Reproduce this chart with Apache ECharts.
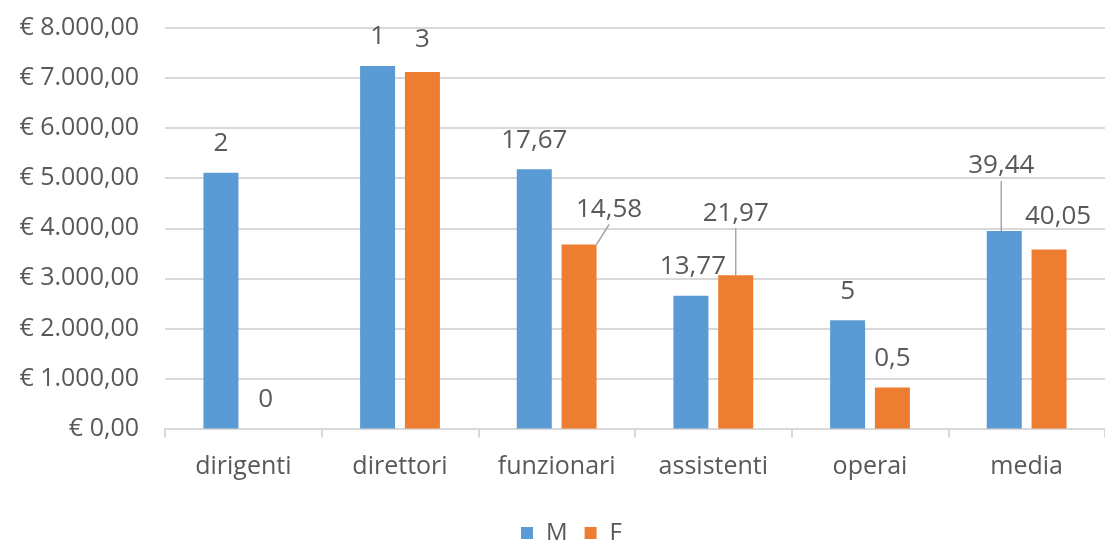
<!DOCTYPE html>
<html lang="it">
<head>
    <meta charset="UTF-8">
    <title>M / F</title>
    <style>
        html, body { margin: 0; padding: 0; background: #fff; }
        #main { width: 1105px; height: 541px; }
    </style>
</head>
<body>
<script src="https://cdn.jsdelivr.net/npm/echarts@6/dist/echarts.min.js"></script>

<div id="main"></div>

<script type="text/javascript">
    // dati
    var categories = ['dirigenti', 'direttori', 'funzionari', 'assistenti', 'operai', 'media'];
    var valoriM = [5110, 7240, 5180, 2650, 2160, 3945];
    var valoriF = [0, 7120, 3675, 3060, 820, 3575];
    var etichetteM = ['2', '1', '17,67', '13,77', '5', '39,44'];
    var etichetteF = ['0', '3', '14,58', '21,97', '0,5', '40,05'];

    // spostamento delle etichette (come in Excel) e linee guida
    var spostaM = [[0, 0], [0, 0], [0, 0], [2, 0], [0, 0], [-3, -36]];
    var spostaF = [[0, 0], [0, -3], [30, -6], [0, -33], [0, 0], [9, -4]];
    var lineaM = [false, false, false, false, false, true];
    var lineaF = [false, false, true, true, false, false];

    var grigio = '#595959';
    var font = "'Open Sans', sans-serif";

    function euro(v) {
        var parti = v.toFixed(2).split('.');
        var intero = parti[0].replace(/\B(?=(\d{3})+(?!\d))/g, '.');
        return '€ ' + intero + ',' + parti[1];
    }

    function creaDati(valori, etichette, linee) {
        var out = [];
        for (var i = 0; i < valori.length; i++) {
            out.push({
                value: valori[i],
                etichetta: etichette[i],
                labelLine: { show: linee[i] }
            });
        }
        return out;
    }

    var myChart = echarts.init(document.getElementById('main'));

    var etichetta = {
        show: true,
        position: 'top',
        distance: 14,
        fontFamily: font,
        fontSize: 26,
        lineHeight: 30,
        color: grigio,
        formatter: function (p) { return p.data.etichetta; }
    };

    var linea = {
        show: false,
        lineStyle: { color: '#a6a6a6', width: 1.5 }
    };

    myChart.setOption({
        animation: false,
        textStyle: { fontFamily: font },
        grid: { left: 165, right: -5, top: 28, bottom: 112.5 },
        legend: {
            data: ['M', 'F'],
            left: 516,
            top: 516,
            icon: 'rect',
            itemWidth: 12,
            itemHeight: 12,
            itemGap: 17,
            textStyle: { fontFamily: font, fontSize: 24, color: grigio, padding: [0, 0, 0, 8] }
        },
        xAxis: {
            type: 'category',
            data: categories,
            axisLine: { lineStyle: { color: '#d9d9d9', width: 2 } },
            axisTick: { show: true, length: 9, lineStyle: { color: '#d9d9d9', width: 2 } },
            axisLabel: { fontFamily: font, fontSize: 25, color: grigio, margin: 23, lineHeight: 30 }
        },
        yAxis: {
            type: 'value',
            min: 0,
            max: 8000,
            interval: 1000,
            axisLine: { show: false },
            axisTick: { show: false },
            splitLine: { lineStyle: { color: '#d9d9d9', width: 2 } },
            axisLabel: {
                fontFamily: font,
                fontSize: 25,
                color: grigio,
                margin: 26,
                formatter: euro
            }
        },
        series: [
            {
                name: 'M',
                type: 'bar',
                barWidth: 35,
                barGap: '28%',
                itemStyle: { color: '#5b9bd5' },
                label: etichetta,
                labelLine: linea,
                labelLayout: function (p) {
                    return { dx: spostaM[p.dataIndex][0], dy: spostaM[p.dataIndex][1] };
                },
                data: creaDati(valoriM, etichetteM, lineaM)
            },
            {
                name: 'F',
                type: 'bar',
                barWidth: 35,
                barGap: '28%',
                itemStyle: { color: '#ed7d31' },
                label: etichetta,
                labelLine: linea,
                labelLayout: function (p) {
                    return { dx: spostaF[p.dataIndex][0], dy: spostaF[p.dataIndex][1] };
                },
                data: creaDati(valoriF, etichetteF, lineaF)
            }
        ]
    });
</script>
</body>
</html>
